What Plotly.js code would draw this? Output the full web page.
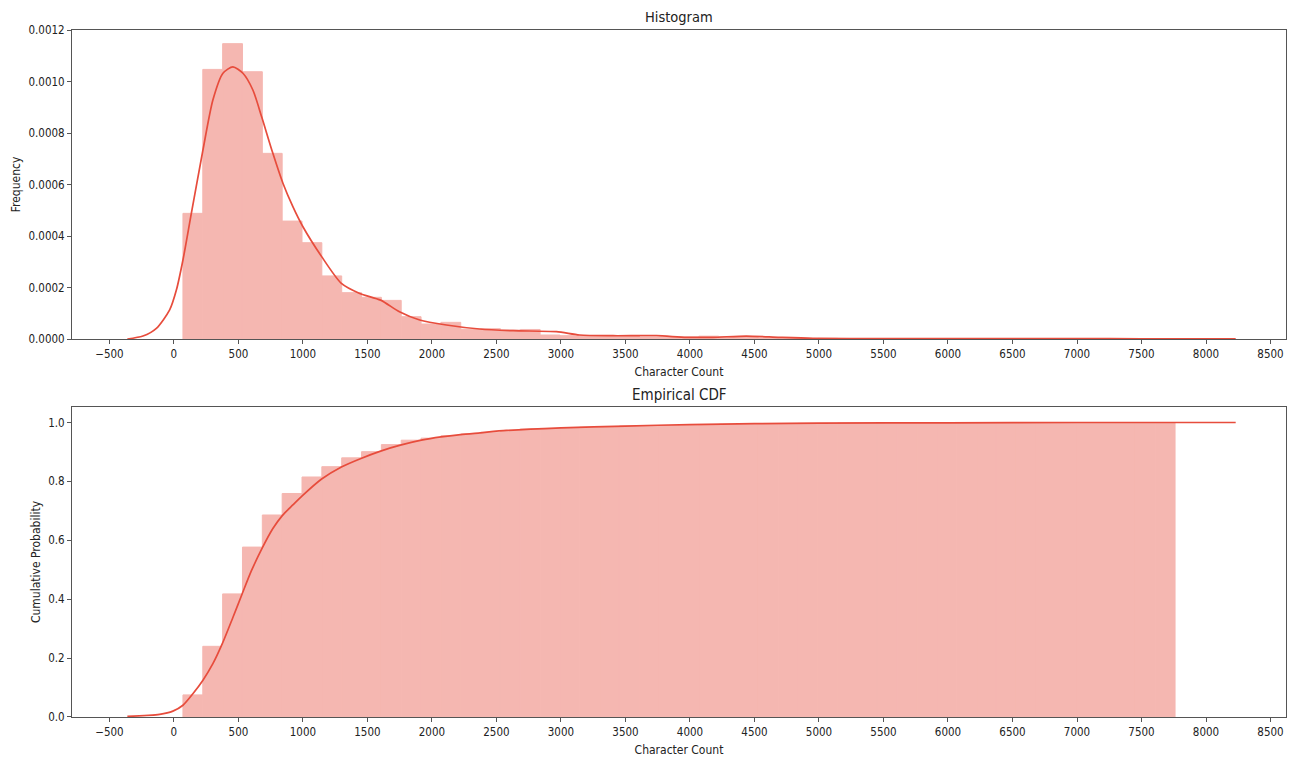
<!DOCTYPE html>
<html>
<head>
<meta charset="utf-8">
<script src="https://cdn.plot.ly/plotly-3.0.1.min.js"></script>
<style>html,body{margin:0;padding:0;background:#fff;}#chart{width:1298px;height:763px;}</style>
</head>
<body>
<div id="chart"></div>
<script>
// ---- data ----
const binStart = 70;      // first bin edge (Character Count)
const binWidth = 153.8;   // width of each of the 50 bins

const histDensity = [
  0.000488, 0.001047, 0.001147, 0.001038, 0.000721, 0.000458, 0.000374, 0.000245, 0.000180, 0.000162,
  0.000150, 0.0000867, 0.0000583, 0.0000648, 0.0000380, 0.0000400, 0.0000350, 0.0000370, 0.0000155, 0.0000130,
  0.0000130, 0.0000125, 0.0000120, 0.0000060, 0.0000070, 0.0000080, 0.0000110, 0.0000090, 0.0000060, 0.0000040,
  0.0000030, 0.0000020, 0.0000025, 0.0000020, 0.0000015, 0.0000010, 0.0000015, 0.0000010, 0.0000010, 0.0000005,
  0.0000010, 0.0000010, 0.0000005, 0.0000005, 0.0000010, 0.0000005, 0.0000005, 0.0000005, 0.0000000, 0.0000010
];

const cdfValues = [
  0.075, 0.240, 0.418, 0.577, 0.686, 0.759, 0.815, 0.850, 0.880, 0.901,
  0.925, 0.940, 0.947, 0.955, 0.961, 0.967, 0.972, 0.978, 0.980, 0.982,
  0.984, 0.986, 0.988, 0.989, 0.990, 0.991, 0.993, 0.994, 0.995, 0.996,
  0.996, 0.997, 0.997, 0.998, 0.998, 0.998, 0.999, 0.999, 0.999, 0.999,
  0.999, 0.9995, 0.9995, 0.9995, 0.9997, 0.9998, 0.9998, 0.9999, 0.9999, 1.0
];

const kdeX = [-361, -240, -136, -33, 19, 70, 135, 225, 302, 380, 457, 535, 612, 680, 767, 845, 922, 1000,
  1145, 1298, 1440, 1602, 1748, 1905, 2112, 2370, 2629, 2965, 3145, 3404, 3740, 3972, 4178, 4437, 4695, 4953,
  5500, 6000, 6500, 7000, 7500, 8000, 8230];
const kdeY = [0, 0.0000117, 0.0000415, 0.000113, 0.00019, 0.000307, 0.000488, 0.000734, 0.000928, 0.001032,
  0.001057, 0.001032, 0.000967, 0.000863, 0.000721, 0.000605, 0.000514, 0.000436,
  0.00032, 0.000216, 0.000177, 0.000151, 0.000106, 0.0000738, 0.0000544, 0.0000388, 0.0000322, 0.0000284,
  0.0000155, 0.0000128, 0.0000128, 0.0000066, 0.0000066, 0.0000116, 0.0000066, 0.0000027,
  0.000002, 0.000002, 0.0000015, 0.0000015, 0.000001, 0.0000005, 0.0000003];

const cdfKdeX = [-361, -111, -8, 70, 147, 225, 302, 375, 457, 527, 600, 680, 767, 840, 922, 992,
  1145, 1298, 1450, 1602, 1755, 1918, 2070, 2222, 2375, 2577, 3000, 3500, 4000, 4500, 5000, 6000, 7000, 8230];
const cdfKdeY = [0.002, 0.009, 0.02, 0.04, 0.079, 0.125, 0.181, 0.249, 0.338, 0.416, 0.496, 0.570, 0.640,
  0.684, 0.720, 0.750, 0.808, 0.849, 0.878, 0.903, 0.923, 0.940, 0.951, 0.959, 0.965, 0.973,
  0.982, 0.988, 0.993, 0.996, 0.998, 0.999, 1.0, 1.0];

const xTickVals = [-500, 0, 500, 1000, 1500, 2000, 2500, 3000, 3500, 4000, 4500, 5000, 5500, 6000, 6500, 7000, 7500, 8000, 8500];

// ---- derived bin centres ----
const binCenters = histDensity.map((_, i) => binStart + binWidth * (i + 0.5));

const barColor = '#f5b7b1';   // #e74c3c at 40% opacity over white
const lineColor = '#e74c3c';
const FONT = 'DejaVu Sans Condensed, Liberation Sans Narrow, DejaVu Sans, sans-serif';

const traces = [
  { type: 'bar', x: binCenters, y: histDensity, width: binWidth,
    marker: { color: barColor, line: { width: 1, color: barColor } },
    xaxis: 'x', yaxis: 'y', hoverinfo: 'x+y' },
  { type: 'scatter', mode: 'lines', x: kdeX, y: kdeY, line: { color: lineColor, width: 1.7, shape: 'spline', smoothing: 0.7 },
    xaxis: 'x', yaxis: 'y' },
  { type: 'bar', x: binCenters, y: cdfValues, width: binWidth,
    marker: { color: barColor, line: { width: 1, color: barColor } },
    xaxis: 'x2', yaxis: 'y2' },
  { type: 'scatter', mode: 'lines', x: cdfKdeX, y: cdfKdeY, line: { color: lineColor, width: 1.7, shape: 'spline', smoothing: 0.7 },
    xaxis: 'x2', yaxis: 'y2' }
];

const axisCommon = {
  showline: true, mirror: true, linecolor: '#555', linewidth: 1,
  ticks: 'outside', ticklen: 4, tickwidth: 1, tickcolor: '#555',
  showgrid: false, zeroline: false,
  tickfont: { family: FONT, size: 11.5, color: '#222' }
};

const layout = {
  width: 1298, height: 763,
  margin: { l: 72, r: 12, t: 30, b: 46 },
  paper_bgcolor: '#fff', plot_bgcolor: '#fff',
  showlegend: false,
  barmode: 'overlay',
  font: { family: FONT, color: '#222' },
  xaxis: Object.assign({}, axisCommon, {
    domain: [0, 1], anchor: 'y', range: [-790, 8620], tickmode: 'array', tickvals: xTickVals,
    title: { text: 'Character Count', font: { family: FONT, size: 12, color: '#222' }, standoff: 7 }
  }),
  yaxis: Object.assign({}, axisCommon, {
    domain: [0.5502, 1], anchor: 'x', range: [0, 0.0012], dtick: 0.0002, tick0: 0, tickformat: '.4f',
    title: { text: 'Frequency', font: { family: FONT, size: 12, color: '#222' }, standoff: 5 }
  }),
  xaxis2: Object.assign({}, axisCommon, {
    domain: [0, 1], anchor: 'y2', range: [-790, 8620], tickmode: 'array', tickvals: xTickVals,
    title: { text: 'Character Count', font: { family: FONT, size: 12, color: '#222' }, standoff: 7 }
  }),
  yaxis2: Object.assign({}, axisCommon, {
    domain: [0, 0.4512], anchor: 'x2', range: [0, 1.0526], dtick: 0.2, tick0: 0, tickformat: '.1f',
    title: { text: 'Cumulative Probability', font: { family: FONT, size: 12, color: '#222' }, standoff: 5 }
  }),
  annotations: [
    { text: 'Histogram', xref: 'paper', yref: 'paper', x: 0.5, y: 1, yanchor: 'bottom', yshift: 3,
      showarrow: false, font: { family: FONT, size: 14.5, color: '#222' } },
    { text: 'Empirical CDF', xref: 'paper', yref: 'paper', x: 0.5, y: 0.4512, yanchor: 'bottom', yshift: 1,
      showarrow: false, font: { family: FONT, size: 15, color: '#222' } }
  ]
};

Plotly.newPlot('chart', traces, layout, { displayModeBar: false, staticPlot: true });
</script>
</body>
</html>
